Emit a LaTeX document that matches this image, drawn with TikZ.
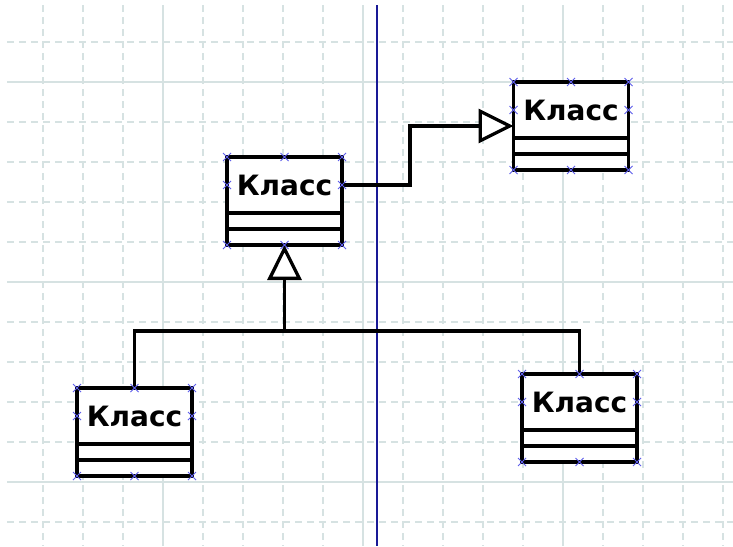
\documentclass[tikz,border=0pt]{standalone}
\usepackage{fontspec}
\setmainfont{DejaVu Sans}
\usepackage{tikz}
\usetikzlibrary{arrows.meta,positioning,shapes.misc,calc}
\definecolor{gridgray}{RGB}{214,226,226}
\definecolor{axisblue}{RGB}{25,25,150}
\definecolor{handleblue}{RGB}{95,95,235}

\begin{document}
\begin{tikzpicture}[x=1pt,y=-1pt,
    classname/.style={draw, fill=white, line width=3.3pt, outer sep=0pt, inner sep=0pt,
      minimum width=115pt, minimum height=56pt, font=\fontsize{28}{32}\selectfont\bfseries},
    classpart/.style={draw, fill=white, line width=3.3pt, outer sep=0pt, inner sep=0pt,
      minimum width=115pt, minimum height=16pt},
    link/.style={line width=3.3pt},
    gen/.style={link, -{Triangle[length=35pt, width=34pt, fill=white]}},
    gridline/.style={gridgray, line width=1.3pt},
    handle/.style={cross out, draw=handleblue, line width=1pt, minimum size=8pt,
      inner sep=0pt, outer sep=0pt}]
    \useasboundingbox[fill=white] (0,0) rectangle (733,546);

    % grid
    \foreach \gx in {43,83,...,723}
        \draw[gridline, dash pattern=on 7pt off 5pt] (\gx,5) -- (\gx,546);
    \foreach \gy in {42,82,...,522}
        \draw[gridline, dash pattern=on 7pt off 5pt] (7,\gy) -- (733,\gy);
    \foreach \gx in {163,363,563}
        \draw[gridline] (\gx,5) -- (\gx,546);
    \foreach \gy in {82,282,482}
        \draw[gridline] (7,\gy) -- (733,\gy);
    \draw[axisblue, line width=1.6pt] (377,5) -- (377,546);

    % classes
    \node[classname] (A) at (284.5,185) {Класс};
    \node[classpart, below=0pt of A] (A1) {};
    \node[classpart, below=0pt of A1] (A2) {};

    \node[classname] (B) at (571,110) {Класс};
    \node[classpart, below=0pt of B] (B1) {};
    \node[classpart, below=0pt of B1] (B2) {};

    \node[classname] (C) at (134.5,416) {Класс};
    \node[classpart, below=0pt of C] (C1) {};
    \node[classpart, below=0pt of C1] (C2) {};

    \node[classname] (D) at (579.5,402) {Класс};
    \node[classpart, below=0pt of D] (D1) {};
    \node[classpart, below=0pt of D1] (D2) {};

    % connectors
    \coordinate (Bin) at ($(B.north west)!0.5!(B2.south west)$);
    \draw[gen] (A.east) -- ++(68,0) |- (Bin);

    \coordinate (T) at ($(C.north)+(0,-57)$);
    \draw[link] (C.north) -- (T) -| (D.north);
    \draw[gen] (A2.south |- T) -- (A2.south);

    % handles
    \foreach \k in {A,B,C,D}
        \foreach \p in {\k.north west,\k.north,\k.north east,\k.west,\k.east,
                        \k2.south west,\k2.south,\k2.south east}
            \node[handle] at (\p) {};
\end{tikzpicture}
\end{document}
